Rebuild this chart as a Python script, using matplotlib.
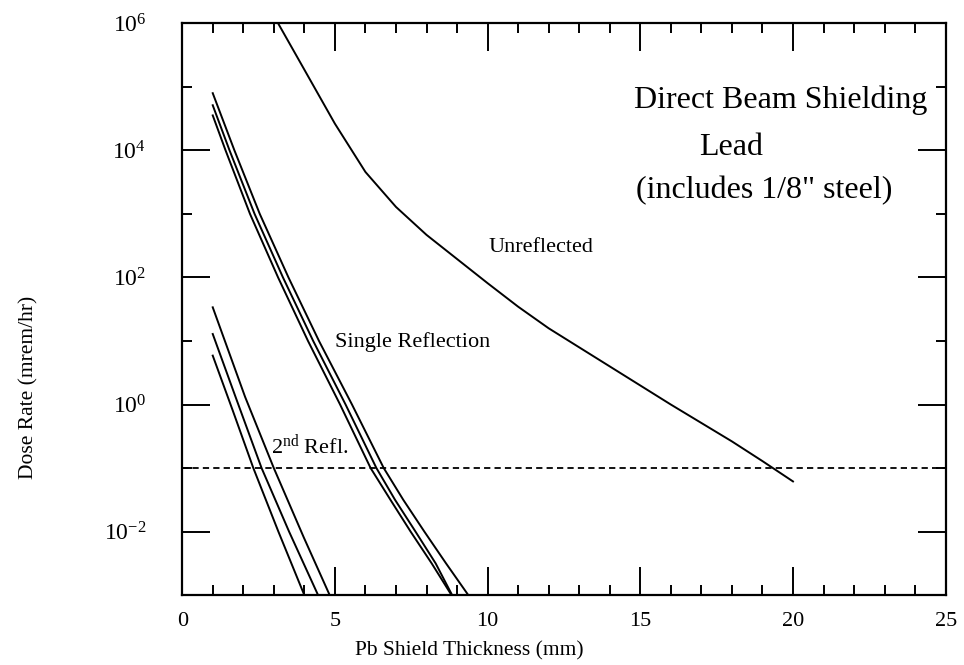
import numpy as np
import matplotlib
matplotlib.use("Agg")
import matplotlib.pyplot as plt
from matplotlib.ticker import FixedLocator, FixedFormatter

plt.rcParams['font.family'] = ['Liberation Serif', 'DejaVu Serif']
plt.rcParams['mathtext.fontset'] = 'custom'
plt.rcParams['mathtext.rm'] = 'Liberation Serif'
plt.rcParams['mathtext.it'] = 'Liberation Serif:italic'
plt.rcParams['lines.scale_dashes'] = False

# values (x in mm, dose as log10 of mrem/hr)
unrefl_x = [3.14, 4.0, 5.0, 6.0, 7.0, 8.0, 9.0, 10.0, 11.0, 12.0, 13.0, 14.0, 15.0, 16.0, 17.0, 18.0, 19.0, 20.0]
unrefl_log = [6.0, 5.27, 4.42, 3.66, 3.11, 2.67, 2.29, 1.91, 1.54, 1.20, 0.90, 0.60, 0.30, 0.0, -0.29, -0.58, -0.89, -1.21]

single_log = [4.0, 3.0, 2.0, 1.0, 0.0, -1.0, -1.5, -2.0, -2.5, -3.0]
single_a_x = [1.0, 1.71, 2.54, 3.48, 4.48, 5.56, 6.60, 7.24, 7.93, 8.64, 9.37]
single_a_log = [4.90] + single_log
single_b_x = [1.0, 1.55, 2.37, 3.30, 4.29, 5.35, 6.36, 6.97, 7.64, 8.30, 8.84]
single_b_log = [4.71] + single_log
single_c_x = [1.0, 1.42, 2.22, 3.14, 4.12, 5.17, 6.17, 6.82, 7.48, 8.17, 8.82]
single_c_log = [4.55] + single_log

second_a_x = [1.0, 2.06, 3.0, 3.98, 4.83]
second_a_log = [1.53, 0.12, -1.0, -2.09, -3.0]
second_b_x = [1.0, 1.80, 2.60, 3.50, 4.45]
second_b_log = [1.11, 0.05, -1.0, -2.0, -3.0]
second_c_x = [1.0, 1.66, 2.33, 3.15, 4.0]
second_c_log = [0.77, -0.10, -1.0, -2.0, -3.0]

limit_dose = 0.1

fig = plt.figure(figsize=(9.64, 6.65), dpi=100)
ax = fig.add_axes([0.189, 0.105, 0.792, 0.86])

lw = 1.4
ax.plot(unrefl_x, 10 ** np.array(unrefl_log), color='black', lw=lw)
for xs, ls in [(single_a_x, single_a_log), (single_b_x, single_b_log), (single_c_x, single_c_log),
               (second_a_x, second_a_log), (second_b_x, second_b_log), (second_c_x, second_c_log)]:
    ax.plot(xs, 10 ** np.array(ls), color='black', lw=lw, solid_joinstyle='round')

ax.axhline(limit_dose, color='black', lw=1.3, dashes=(4.5, 3))

ax.set_yscale('log')
ax.set_xlim(0, 25)
ax.set_ylim(1e-3, 1e6)

ax.xaxis.set_major_locator(FixedLocator([0, 5, 10, 15, 20, 25]))
ax.xaxis.set_minor_locator(FixedLocator(list(range(0, 26))))
ax.xaxis.set_major_formatter(FixedFormatter(['0', '5', '10', '15', '20', '25']))

ymaj = [1e-2, 1e0, 1e2, 1e4, 1e6]
ax.yaxis.set_major_locator(FixedLocator(ymaj))
ax.yaxis.set_major_formatter(FixedFormatter([r'10$^{\rm \mathrm{-}2}$', r'10$^{\rm 0}$', r'10$^{\rm 2}$',
                                             r'10$^{\rm 4}$', r'10$^{\rm 6}$']))
ax.yaxis.set_minor_locator(FixedLocator([1e-1, 1e1, 1e3, 1e5]))
ax.yaxis.set_minor_formatter(FixedFormatter([]))

ax.tick_params(which='both', direction='in', top=True, right=True, width=1.4, colors='black')
ax.tick_params(which='major', length=20)
ax.tick_params(which='minor', length=7)
ax.tick_params(axis='x', which='major', labelsize=16, pad=12)
ax.tick_params(axis='y', which='major', labelsize=17, pad=26)

for s in ax.spines.values():
    s.set_linewidth(1.6)

ax.text(19.6, 10 ** 4.79, 'Direct Beam Shielding', fontsize=23, ha='center', va='center')
ax.text(17.97, 10 ** 4.05, 'Lead', fontsize=23, ha='center', va='center')
ax.text(19.05, 10 ** 3.37, '(includes 1/8" steel)', fontsize=23, ha='center', va='center')
ax.text(11.75, 10 ** 2.47, 'Unreflected', fontsize=16, ha='center', va='center')
ax.text(7.56, 10 ** 0.99, 'Single Reflection', fontsize=16, ha='center', va='center')
ax.text(4.16, 10 ** -0.65, r'2$^{\rm nd}$ Refl.', fontsize=16, ha='center', va='center')

fig.text(0.487, 0.021, 'Pb Shield Thickness (mm)', fontsize=15.5, ha='center', va='center')
fig.text(0.030, 0.417, 'Dose Rate (mrem/hr)', fontsize=15.5, ha='center', va='center', rotation=90)

fig.savefig('out.png', dpi=100)
